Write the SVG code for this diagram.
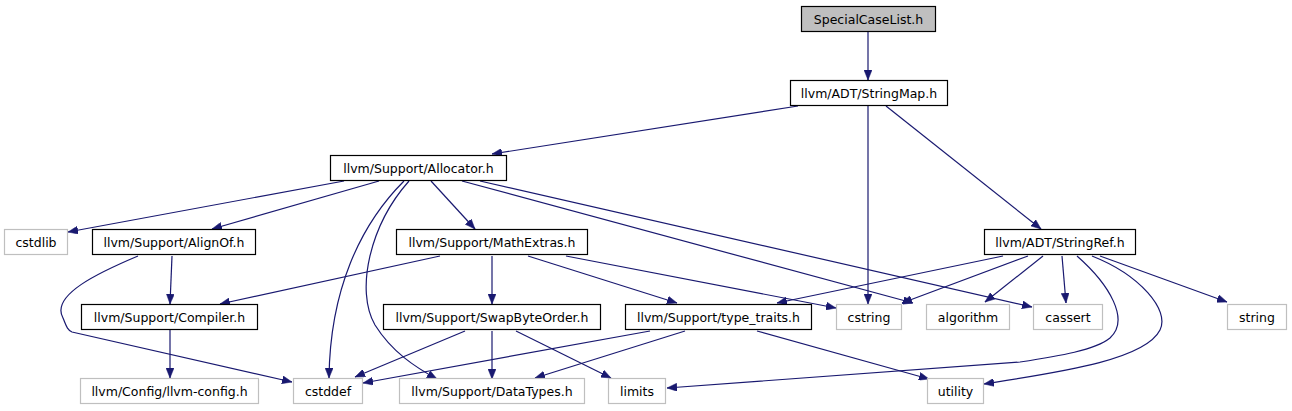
<svg xmlns="http://www.w3.org/2000/svg" width="1292" height="411" viewBox="0 0 1292 411">
<defs>
<marker id="arr" markerUnits="userSpaceOnUse" markerWidth="11" markerHeight="8" refX="10" refY="4" orient="auto">
<path d="M0,0 L10,4 L0,8 z" fill="#191970" stroke="#191970" stroke-width="0.5"/>
</marker>
</defs>
<style>
.n rect{fill:#ffffff;stroke:#000000;stroke-width:1.2}
.g rect{fill:#ffffff;stroke:#bfbfbf;stroke-width:1.2}
.r rect{fill:#bfbfbf;stroke:#000000;stroke-width:1.2}
text{font-family:"DejaVu Sans","Liberation Sans",sans-serif;font-size:12.5px;fill:#000000;text-anchor:middle}
#edges path{fill:none;stroke:#191970;stroke-width:1.2;marker-end:url(#arr)}
</style>
<rect x="0" y="0" width="1292" height="411" fill="#ffffff"/>
<g id="edges">
<path d="M868,31 L868,80"/>
<path d="M798,106 L492,154"/>
<path d="M868,106 L868,304"/>
<path d="M886,106 L1041,229"/>
<path d="M344,181 L68,232"/>
<path d="M379,181 L212,229"/>
<path d="M404,181 C360,225 330,290 329,378"/>
<path d="M409,181 C370,225 355,290 375,325 C392,352 415,367 437,379"/>
<path d="M431,181 L475,229"/>
<path d="M462,181 L913,303"/>
<path d="M480,181 L1032,307"/>
<path d="M440,256 L220,304"/>
<path d="M492,256 L492,304"/>
<path d="M528,256 L677,303"/>
<path d="M566,256 L836,308"/>
<path d="M172,256 L170,304"/>
<path d="M138,256 C100,272 50,295 63,318 C66,325 67,330 72,332 L292,382"/>
<path d="M170,330 L170,378"/>
<path d="M465,331 L355,377"/>
<path d="M492,331 L492,379"/>
<path d="M516,331 L611,378"/>
<path d="M650,331 L363,383"/>
<path d="M685,331 L535,378"/>
<path d="M757,331 L929,379"/>
<path d="M1003,256 L777,303"/>
<path d="M1028,256 L902,303"/>
<path d="M1043,256 L985,302"/>
<path d="M1062,256 L1066,303"/>
<path d="M1077,256 C1110,285 1130,320 1110,338 C1095,350 1060,356 1020,362 L667,388"/>
<path d="M1092,256 C1140,275 1170,310 1160,330 C1145,360 1060,372 984,384"/>
<path d="M1100,256 L1227,302"/>
</g>
<g id="n_speciallist" class="r"><rect x="801.5" y="6.5" width="134" height="25"/><text x="868.5" y="23.5">SpecialCaseList.h</text></g>
<g id="n_stringmap" class="n"><rect x="790.5" y="80.5" width="157" height="25"/><text x="869" y="97.5">llvm/ADT/StringMap.h</text></g>
<g id="n_allocator" class="n"><rect x="330.5" y="155.5" width="176" height="25"/><text x="418.5" y="172.5">llvm/Support/Allocator.h</text></g>
<g id="n_cstdlib" class="g"><rect x="4.5" y="229.5" width="63" height="25"/><text x="36" y="246.5">cstdlib</text></g>
<g id="n_alignof" class="n"><rect x="92.5" y="229.5" width="163" height="25"/><text x="174" y="246.5">llvm/Support/AlignOf.h</text></g>
<g id="n_mathextras" class="n"><rect x="396.5" y="229.5" width="191" height="25"/><text x="492" y="246.5">llvm/Support/MathExtras.h</text></g>
<g id="n_stringref" class="n"><rect x="984.5" y="229.5" width="151" height="25"/><text x="1060" y="246.5">llvm/ADT/StringRef.h</text></g>
<g id="n_compiler" class="n"><rect x="81.5" y="304.5" width="176" height="25"/><text x="169.5" y="321.5">llvm/Support/Compiler.h</text></g>
<g id="n_swapbyteorder" class="n"><rect x="383.5" y="304.5" width="217" height="25"/><text x="492" y="321.5">llvm/Support/SwapByteOrder.h</text></g>
<g id="n_typetraits" class="n"><rect x="625.5" y="304.5" width="186" height="25"/><text x="718.5" y="321.5">llvm/Support/type_traits.h</text></g>
<g id="n_cstring" class="g"><rect x="836.5" y="304.5" width="65" height="25"/><text x="869" y="321.5">cstring</text></g>
<g id="n_algorithm" class="g"><rect x="926.5" y="304.5" width="83" height="25"/><text x="968" y="321.5">algorithm</text></g>
<g id="n_cassert" class="g"><rect x="1033.5" y="304.5" width="69" height="25"/><text x="1068" y="321.5">cassert</text></g>
<g id="n_string" class="g"><rect x="1227.5" y="304.5" width="59" height="25"/><text x="1257" y="321.5">string</text></g>
<g id="n_llvmconfig" class="g"><rect x="80.5" y="378.5" width="178" height="25"/><text x="169.5" y="395.5">llvm/Config/llvm-config.h</text></g>
<g id="n_cstddef" class="g"><rect x="293.5" y="378.5" width="69" height="25"/><text x="328" y="395.5">cstddef</text></g>
<g id="n_datatypes" class="g"><rect x="399.5" y="378.5" width="185" height="25"/><text x="492" y="395.5">llvm/Support/DataTypes.h</text></g>
<g id="n_limits" class="g"><rect x="608.5" y="378.5" width="57" height="25"/><text x="637" y="395.5">limits</text></g>
<g id="n_utility" class="g"><rect x="927.5" y="378.5" width="56" height="25"/><text x="955.5" y="395.5">utility</text></g>
</svg>
